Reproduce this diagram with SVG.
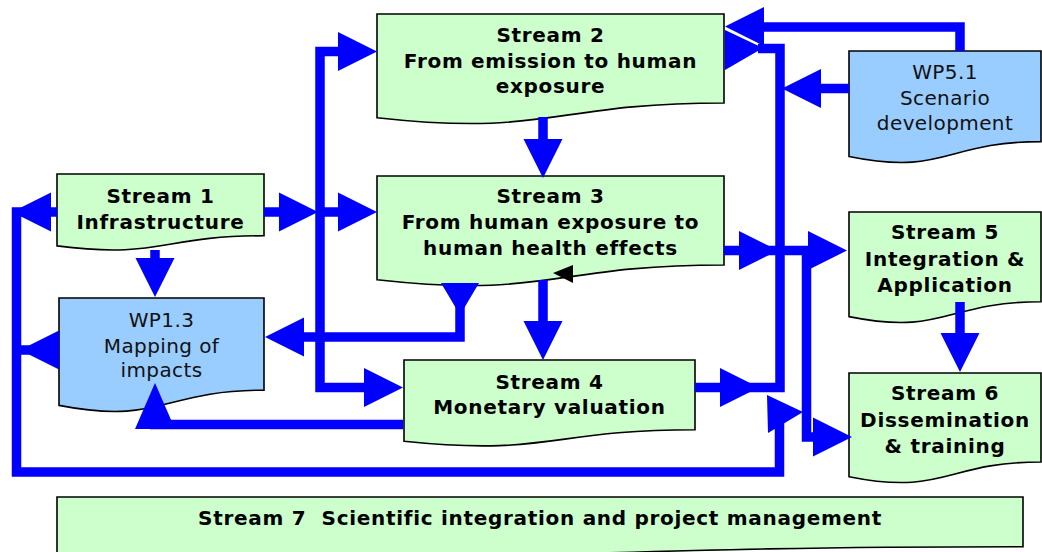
<svg xmlns="http://www.w3.org/2000/svg" width="1042" height="552" viewBox="0 0 1042 552">
<style>
.g{fill:#CCFFCC;stroke:#000;stroke-width:1.6}
.b{fill:#99CCFF;stroke:#000;stroke-width:1.6}
.t{font-family:"DejaVu Sans","Verdana",sans-serif;font-size:20px;font-weight:bold;letter-spacing:0.7px;text-anchor:middle;fill:#000}
.n{font-family:"DejaVu Sans","Verdana",sans-serif;font-size:20px;letter-spacing:0.4px;text-anchor:middle;fill:#111}
.c{fill:none;stroke:#0000FF;stroke-width:9.5;stroke-linejoin:miter;stroke-linecap:butt}
.h{fill:#0000FF}
</style>
<defs>
<path id="ah" d="M0,-19.5 L39,0 L0,19.5 Z"/>
</defs>
<rect width="1042" height="552" fill="#fff"/>
<g id="stream1">
<path class="g" d="M57,174 H264 V235.75 C160.5,235.75 160.5,259.3 57,245.9 Z"/>
<text class="t" x="160.5" y="203">Stream 1</text>
<text class="t" x="160.5" y="229">Infrastructure</text>
</g>
<g id="stream2">
<path class="g" d="M377,14 H724 V103 C550.5,103 550.5,136.9 377,117.7 Z"/>
<text class="t" x="550.5" y="42">Stream 2</text>
<text class="t" x="550.5" y="68">From emission to human</text>
<text class="t" x="550.5" y="93">exposure</text>
</g>
<g id="stream3">
<path class="g" d="M377,176 H724 V265 C550.5,265 550.5,298.9 377,279.7 Z"/>
<text class="t" x="550.5" y="203">Stream 3</text>
<text class="t" x="550.5" y="229">From human exposure to</text>
<text class="t" x="550.5" y="255">human health effects</text>
</g>
<g id="stream4">
<path class="g" d="M404,360 H695 V429.8 C549.5,429.8 549.5,456.4 404,441.3 Z"/>
<text class="t" x="549.5" y="389">Stream 4</text>
<text class="t" x="549.5" y="414">Monetary valuation</text>
</g>
<g id="stream5">
<path class="g" d="M849,212 H1041 V301.8 C945,301.8 945,336 849,316.6 Z"/>
<text class="t" x="945" y="239">Stream 5</text>
<text class="t" x="945" y="266">Integration &amp;</text>
<text class="t" x="945" y="292">Application</text>
</g>
<g id="stream6">
<path class="g" d="M849,373 H1041 V462 C945,462 945,495.9 849,476.7 Z"/>
<text class="t" x="945" y="400">Stream 6</text>
<text class="t" x="945" y="427">Dissemination</text>
<text class="t" x="945" y="453">&amp; training</text>
</g>
<g id="wp51">
<path class="b" d="M849,51 H1041 V141.6 C945,141.6 945,176.1 849,156.5 Z"/>
<text class="n" x="945" y="79">WP5.1</text>
<text class="n" x="945" y="105">Scenario</text>
<text class="n" x="945" y="130">development</text>
</g>
<g id="wp13">
<path class="b" d="M59,298 H264 V390.2 C161.5,390.2 161.5,425.4 59,405.4 Z"/>
<text class="n" x="161.5" y="327">WP1.3</text>
<text class="n" x="161.5" y="353">Mapping of</text>
<text class="n" x="161.5" y="377">impacts</text>
</g>
<g id="stream7">
<path class="g" d="M57,497 H1023 V546.7 C540,546.7 540,565.7 57,554.9 Z"/>
<text class="t" x="540" y="525" xml:space="preserve" style="white-space:pre">Stream 7  Scientific integration and project management</text>
</g>
<g id="connectors">
<!-- Stream 1 left loop around bottom -->
<path class="c" d="M57,212 H16.5 V472 H779.5 V423"/>
<use href="#ah" class="h" transform="translate(51,212) rotate(180)"/>
<path class="c" d="M59,350 H21"/>
<use href="#ah" class="h" transform="translate(59,350) rotate(180)"/>
<polygon class="h" points="767,395 768,433 803,412"/>
<!-- Stream 1 right to left bus -->
<path class="c" d="M264,212 H282"/>
<use href="#ah" class="h" transform="translate(279,212)"/>
<path class="c" d="M340,51.5 H320 V387.5 H366"/>
<use href="#ah" class="h" transform="translate(338,51.5)"/>
<path class="c" d="M320,212 H340"/>
<use href="#ah" class="h" transform="translate(338,212)"/>
<use href="#ah" class="h" transform="translate(364,387.5)"/>
<!-- Stream 1 to WP1.3 -->
<path class="c" d="M155,250 V260"/>
<use href="#ah" class="h" transform="translate(155,258) rotate(90)"/>
<!-- Stream 2 to Stream 3 -->
<path class="c" d="M543,117 V142"/>
<use href="#ah" class="h" transform="translate(543,139) rotate(90)"/>
<!-- Stream 3 to Stream 4 -->
<path class="c" d="M543,280 V323"/>
<use href="#ah" class="h" transform="translate(543,321) rotate(90)"/>
<polygon fill="#000" points="553,273 573,265 573,283"/>
<!-- Stream 3 to WP1.3 -->
<polygon class="h" points="441,283 479,283 460,315"/>
<path class="c" d="M460,300 V337 H300"/>
<use href="#ah" class="h" transform="translate(304,337) rotate(180)"/>
<!-- Stream 4 to WP1.3 -->
<path class="c" d="M403,424.5 H150"/>
<polygon class="h" points="155,383 135,429 175,429"/>
<!-- Stream 3 to bus and Stream 5 -->
<path class="c" d="M724,250.5 H812"/>
<use href="#ah" class="h" transform="translate(739,250.5)"/>
<use href="#ah" class="h" transform="translate(808,250.5)"/>
<path class="c" d="M806.5,250.5 V437 H815"/>
<use href="#ah" class="h" transform="translate(813,437)"/>
<!-- Stream 4 to right bus up to Stream 2 -->
<path class="c" d="M695,387.5 H780 V48.5 H758"/>
<use href="#ah" class="h" transform="translate(720,387.5)"/>
<polygon class="h" points="725,30 725,70 763,48"/>
<!-- WP5.1 to Stream 2 -->
<path class="c" d="M960,51 V27 H762"/>
<use href="#ah" class="h" transform="translate(764,26.5) rotate(180)"/>
<!-- WP5.1 to bus -->
<path class="c" d="M849,88.5 H815"/>
<use href="#ah" class="h" transform="translate(821,88.5) rotate(180)"/>
<!-- Stream 5 to Stream 6 -->
<path class="c" d="M960,302 V335"/>
<use href="#ah" class="h" transform="translate(960,333) rotate(90)"/>
</g>
</svg>
